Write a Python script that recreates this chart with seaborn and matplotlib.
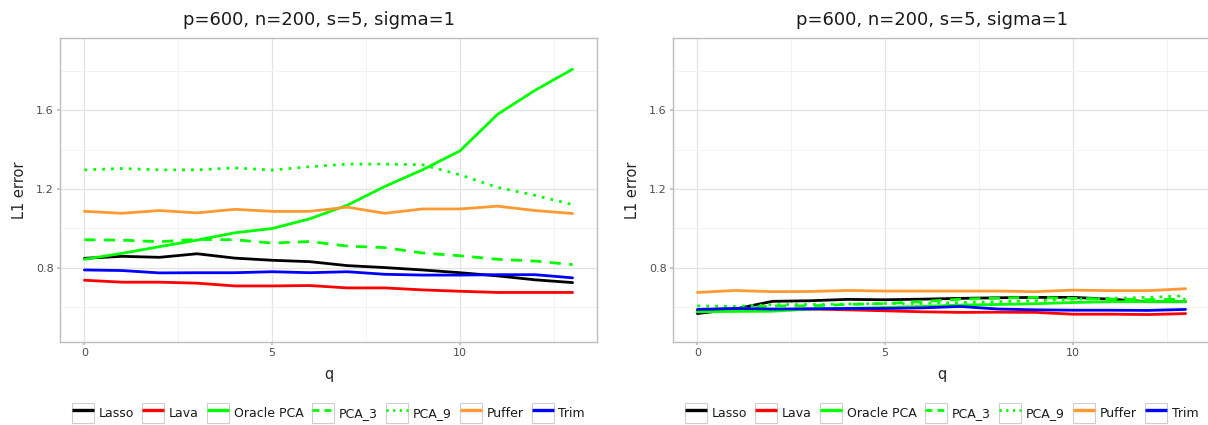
import numpy as np
import pandas as pd
import matplotlib
matplotlib.use("Agg")
import matplotlib.pyplot as plt
import seaborn as sns
from matplotlib.legend_handler import HandlerLine2D
from matplotlib.lines import Line2D
from matplotlib.patches import Rectangle

q = list(range(14))
methods = ["Lasso", "Lava", "Oracle PCA", "PCA_3", "PCA_9", "Puffer", "Trim"]
title = "p=600, n=200, s=5, sigma=1"

# Left panel
left_lasso = [0.849, 0.859, 0.854, 0.872, 0.850, 0.839, 0.832, 0.812, 0.802, 0.790, 0.776, 0.760, 0.740, 0.726]
left_lava = [0.738, 0.728, 0.728, 0.723, 0.709, 0.709, 0.711, 0.699, 0.699, 0.689, 0.682, 0.676, 0.676, 0.676]
left_oracle = [0.844, 0.874, 0.908, 0.941, 0.978, 1.000, 1.049, 1.118, 1.213, 1.297, 1.393, 1.578, 1.700, 1.807]
left_pca3 = [0.943, 0.941, 0.933, 0.945, 0.943, 0.926, 0.934, 0.911, 0.903, 0.876, 0.862, 0.844, 0.835, 0.817]
left_pca9 = [1.297, 1.304, 1.297, 1.297, 1.307, 1.296, 1.313, 1.326, 1.326, 1.323, 1.272, 1.208, 1.168, 1.121]
left_puffer = [1.087, 1.077, 1.091, 1.079, 1.097, 1.087, 1.087, 1.108, 1.077, 1.099, 1.099, 1.113, 1.091, 1.076]
left_trim = [0.790, 0.787, 0.775, 0.776, 0.776, 0.781, 0.776, 0.781, 0.768, 0.764, 0.764, 0.766, 0.766, 0.750]

# Right panel
right_lasso = [0.569, 0.592, 0.631, 0.634, 0.641, 0.639, 0.642, 0.646, 0.649, 0.651, 0.651, 0.642, 0.629, 0.629]
right_lava = [0.583, 0.586, 0.588, 0.592, 0.588, 0.583, 0.578, 0.575, 0.576, 0.575, 0.566, 0.566, 0.564, 0.569]
right_oracle = [0.578, 0.580, 0.581, 0.592, 0.595, 0.600, 0.605, 0.612, 0.615, 0.619, 0.625, 0.629, 0.630, 0.630]
right_pca3 = [0.590, 0.593, 0.608, 0.608, 0.615, 0.620, 0.630, 0.642, 0.647, 0.651, 0.646, 0.642, 0.639, 0.642]
right_pca9 = [0.608, 0.605, 0.614, 0.615, 0.617, 0.620, 0.620, 0.625, 0.629, 0.634, 0.642, 0.646, 0.651, 0.659]
right_puffer = [0.676, 0.686, 0.680, 0.681, 0.686, 0.683, 0.683, 0.683, 0.683, 0.680, 0.688, 0.685, 0.685, 0.695]
right_trim = [0.590, 0.595, 0.592, 0.593, 0.595, 0.595, 0.598, 0.605, 0.592, 0.588, 0.586, 0.586, 0.585, 0.590]

colors = {"Lasso": "#000000", "Lava": "#ff0000", "Oracle PCA": "#00ff00",
          "PCA_3": "#00ff00", "PCA_9": "#00ff00", "Puffer": "#ff9933", "Trim": "#0000ff"}
dashes = {"Lasso": "", "Lava": "", "Oracle PCA": "", "PCA_3": (4, 3),
          "PCA_9": (1, 2.2), "Puffer": "", "Trim": ""}
legend_dashes = {"PCA_3": (2.5, 1.8), "PCA_9": (0.8, 1.6)}


def make_df(series):
    rows = []
    for m, vals in zip(methods, series):
        for x, v in zip(q, vals):
            rows.append({"q": x, "L1 error": v, "method": m})
    return pd.DataFrame(rows)


df_left = make_df([left_lasso, left_lava, left_oracle, left_pca3, left_pca9, left_puffer, left_trim])
df_right = make_df([right_lasso, right_lava, right_oracle, right_pca3, right_pca9, right_puffer, right_trim])

sns.set_theme(style="white")
plt.rcParams["font.family"] = ["DejaVu Sans"]


class BoxedLine(HandlerLine2D):
    def create_artists(self, legend, orig_handle, xdescent, ydescent, width, height, fontsize, trans):
        rect = Rectangle((-xdescent, -ydescent), width, height, facecolor="white",
                         edgecolor="#cfcfcf", linewidth=0.8, transform=trans)
        arts = super().create_artists(legend, orig_handle, xdescent, ydescent, width, height, fontsize, trans)
        return [rect] + list(arts)


fig = plt.figure(figsize=(12.08, 4.25), dpi=100)
W, H = 1208, 425
ax1 = fig.add_axes([60 / W, (H - 342) / H, (597 - 60) / W, (342 - 38) / H])
ax2 = fig.add_axes([673 / W, (H - 342) / H, (1210 - 673) / W, (342 - 38) / H])

for ax, df, tx in [(ax1, df_left, 319), (ax2, df_right, 932)]:
    sns.lineplot(data=df, x="q", y="L1 error", hue="method", style="method",
                 palette=colors, dashes=dashes, linewidth=2, ax=ax, legend=False)
    ax.set_xlim(-0.65, 13.65)
    ax.set_ylim(0.425, 1.965)
    ax.set_xticks([0, 5, 10])
    ax.set_xticks([2.5, 7.5, 12.5], minor=True)
    ax.set_yticks([0.8, 1.2, 1.6])
    ax.set_yticks([0.6, 1.0, 1.4, 1.8], minor=True)
    ax.grid(which="major", color="#e3e3e3", linewidth=0.9)
    ax.grid(which="minor", color="#f0f0f0", linewidth=0.6)
    ax.set_axisbelow(True)
    for sp in ax.spines.values():
        sp.set_color("#bdbdbd")
        sp.set_linewidth(1.0)
    ax.tick_params(axis="both", which="major", length=2.5, color="#bdbdbd",
                   labelsize=8, labelcolor="#4d4d4d", pad=2, left=True, bottom=True)
    ax.tick_params(axis="both", which="minor", length=0)
    fig.text(tx / W, 1 - 25 / H, title, fontsize=13, ha="center", va="baseline", color="#1a1a1a")
    ax.set_xlabel("q", fontsize=10.5, labelpad=6.5)
    ax.set_ylabel("L1 error", fontsize=10.5, labelpad=6.5)

    handles = []
    for m in methods:
        if m in legend_dashes:
            handles.append(Line2D([], [], color=colors[m], linewidth=2.0,
                                  dash_capstyle="butt", dashes=legend_dashes[m]))
        else:
            handles.append(Line2D([], [], color=colors[m], linewidth=2.4,
                                  solid_capstyle="butt"))
    ax.legend(handles, methods, loc="center", bbox_to_anchor=(0.5, -0.234),
              ncol=7, frameon=False, fontsize=9, handlelength=1.76, handleheight=2.08,
              handletextpad=0.39, columnspacing=0.65, labelcolor="#1a1a1a",
              handler_map={Line2D: BoxedLine()})

fig.savefig("out.png", dpi=100)
